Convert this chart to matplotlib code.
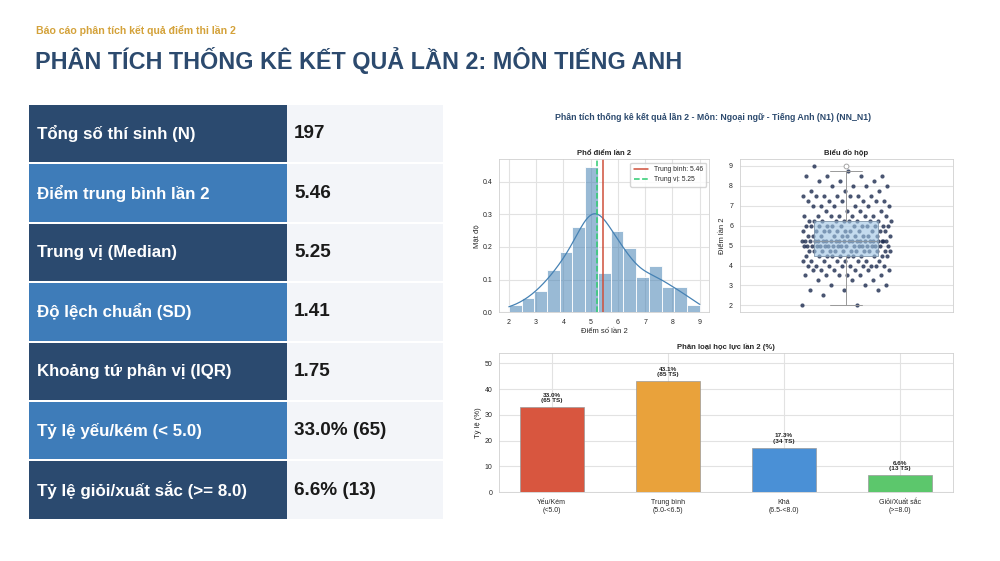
import numpy as np
import matplotlib
matplotlib.use("Agg")
import matplotlib.pyplot as plt
from matplotlib.patches import Rectangle
import seaborn as sns

# --- du lieu ---
diem = [2.0, 2.25, 2.5, 2.75, 3.0, 3.25, 3.5, 3.75, 4.0, 4.25, 4.5, 4.75,
        5.0, 5.25, 5.5, 5.75, 6.0, 6.25, 6.5, 6.75, 7.0, 7.25, 7.5, 7.75,
        8.0, 8.25, 8.5, 8.75, 9.0]
so_ts = [2, 0, 1, 3, 3, 3, 6, 6, 9, 8, 11, 13,
         19, 22, 11, 11, 12, 10, 8, 4, 6, 6, 7, 3,
         4, 3, 4, 1, 1]

nhan_bang = ["Tổng số thí sinh (N)", "Điểm trung bình lần 2", "Trung vị (Median)",
             "Độ lệch chuẩn (SD)", "Khoảng tứ phân vị (IQR)",
             "Tỷ lệ yếu/kém (< 5.0)", "Tỷ lệ giỏi/xuất sắc (>= 8.0)"]
gia_tri_bang = ["197", "5.46", "5.25", "1.41", "1.75", "33.0% (65)", "6.6% (13)"]

loai = ["Yếu/Kém\n(<5.0)", "Trung bình\n(5.0-<6.5)", "Khá\n(6.5-<8.0)", "Giỏi/Xuất sắc\n(>=8.0)"]
ty_le = [33.0, 43.1, 17.3, 6.6]
so_luong = [65, 85, 34, 13]
mau_loai = ["#d8563f", "#e9a23b", "#4a90d6", "#5cc76c"]

scores = np.repeat(diem, so_ts)
mean = scores.mean()
median = np.median(scores)

sns.set_style("whitegrid", {"axes.edgecolor": "#d0d0d0", "grid.color": "#e2e2e2"})
plt.rcParams['font.family'] = ['Liberation Sans', 'DejaVu Sans']

W, H = 1000, 561
fig = plt.figure(figsize=(W / 100, H / 100), dpi=100)
fig.patch.set_facecolor("white")

def px(l, t, r, b):
    return [l / W, 1 - b / H, (r - l) / W, (b - t) / H]

# --- tieu de ---
fig.text(36 / W, 1 - 30 / H, "Báo cáo phân tích kết quả điểm thi lần 2",
         color="#d4a23a", fontsize=7.6, fontweight="bold", va="center")
fig.text(35 / W, 1 - 61 / H, "PHÂN TÍCH THỐNG KÊ KẾT QUẢ LẦN 2: MÔN TIẾNG ANH",
         color="#2c4a6e", fontsize=16.8, fontweight="bold", va="center")

# --- bang ---
bg = fig.add_axes([0, 0, 1, 1], zorder=-1)
bg.set_xlim(0, W)
bg.set_ylim(H, 0)
bg.axis("off")
top, row_h = 105, 59.4
for i, (nh, gt) in enumerate(zip(nhan_bang, gia_tri_bang)):
    y0 = top + i * row_h
    mau = "#2b4a6f" if i % 2 == 0 else "#3e7cb9"
    bg.add_patch(Rectangle((28.5, y0), 258, row_h - 2, color=mau, lw=0))
    bg.add_patch(Rectangle((287, y0), 156, row_h - 2, color="#f3f5f9", lw=0))
    yc = y0 + (row_h - 2) / 2
    bg.text(37, yc, nh, color="white", fontsize=12.2, fontweight="bold", va="center")
    bg.text(294, yc, gt, color="#1a1a1a", fontsize=13.6, fontweight="bold", va="center")

fig.text(713 / W, 1 - 118 / H,
         "Phân tích thống kê kết quả lần 2 - Môn: Ngoại ngữ - Tiếng Anh (N1) (NN_N1)",
         color="#2c4a6e", fontsize=6.3, fontweight="bold", ha="center", va="center")

# --- pho diem ---
ax_h = fig.add_axes(px(499.3, 159.3, 709.3, 312.3))
sns.histplot(scores, bins=15, binrange=(2, 9), stat="density", kde=True,
             color="steelblue", alpha=0.55, edgecolor="white", linewidth=0.6, ax=ax_h,
             line_kws={"linewidth": 0.9})
ax_h.axvline(mean, color="#cf4f3b", lw=1.1, label=f"Trung bình: {mean:.2f}")
ax_h.axvline(median, color="#2ecc71", lw=1.1, ls="--", label=f"Trung vị: {median:.2f}")
ax_h.set_title("Phổ điểm lần 2", fontsize=5.5, fontweight="bold", pad=3)
ax_h.set_xlabel("Điểm số lần 2", fontsize=5.5, labelpad=1)
ax_h.set_ylabel("Mật độ", fontsize=5.5, labelpad=2)
ax_h.tick_params(labelsize=5, pad=1.5)
ax_h.set_xticks(range(2, 10))
ax_h.legend(fontsize=4.8, loc="upper right", frameon=True, handlelength=2.2, borderpad=0.5)
for s in ax_h.spines.values():
    s.set_linewidth(0.6)

# --- bieu do hop ---
ax_b = fig.add_axes(px(740, 159, 952.7, 312.3))
jitter = ((np.arange(len(scores)) * 0.6180339887) % 1 - 0.5) * 0.42
ax_b.scatter(jitter, scores, s=9, color="#1b2a4e", alpha=0.8, lw=0, zorder=2)
ax_b.boxplot(scores, positions=[0], widths=0.3, patch_artist=True, zorder=3,
             boxprops=dict(facecolor=(0.62, 0.77, 0.89, 0.6), edgecolor="#7f95aa", linewidth=0.6),
             whiskerprops=dict(color="#999999", linewidth=0.7),
             capprops=dict(color="#999999", linewidth=0.7),
             medianprops=dict(color="#8a96a2", linewidth=0.7),
             flierprops=dict(marker="o", markersize=3.5, markerfacecolor="white",
                             markeredgecolor="#999999", markeredgewidth=0.6))
ax_b.set_xlim(-0.5, 0.5)
ax_b.set_xticks([])
ax_b.set_yticks(range(2, 10))
ax_b.set_title("Biểu đồ hộp", fontsize=5.5, fontweight="bold", pad=3)
ax_b.set_ylabel("Điểm lần 2", fontsize=5.5, labelpad=2)
ax_b.tick_params(labelsize=5, pad=1.5)
for s in ax_b.spines.values():
    s.set_linewidth(0.6)

# --- phan loai ---
ax_c = fig.add_axes(px(499.3, 353.3, 952.7, 492.3))
x = np.arange(len(loai))
ax_c.bar(x, ty_le, width=0.55, color=mau_loai, edgecolor="#9a9a9a", linewidth=0.5)
for xi, p, n in zip(x, ty_le, so_luong):
    ax_c.text(xi, p + 1.5, f"{p:.1f}%\n({n} TS)", ha="center", va="bottom",
              fontsize=4.6, fontweight="bold", color="#222222", linespacing=1.1)
ax_c.set_ylim(0, max(ty_le) * 1.25)
ax_c.set_xticks(x)
ax_c.set_xticklabels(loai, fontsize=5.2, linespacing=1.1)
ax_c.set_yticks(range(0, 51, 10))
ax_c.tick_params(labelsize=5, pad=1.5)
ax_c.set_title("Phân loại học lực lần 2 (%)", fontsize=5.5, fontweight="bold", pad=3)
ax_c.set_ylabel("Tỷ lệ (%)", fontsize=5.5, labelpad=2)
for s in ax_c.spines.values():
    s.set_linewidth(0.6)

fig.savefig("out.png", dpi=100)
